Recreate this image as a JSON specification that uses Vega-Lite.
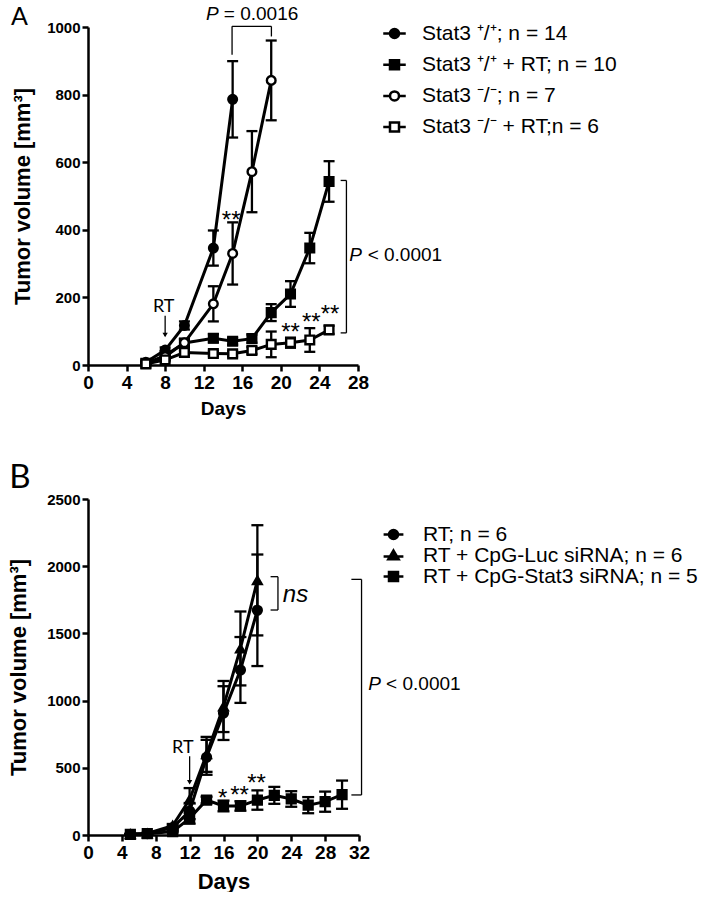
{
  "$schema": "https://vega.github.io/schema/vega-lite/v6.json",
  "background": "white",
  "padding": {"left": 7, "top": 4, "right": 0, "bottom": 0},
  "bounds": "flush",
  "spacing": 134,
  "resolve": {"scale": {"shape": "independent", "fill": "independent", "x": "independent", "y": "independent"}, "legend": {"shape": "independent", "fill": "independent"}},
  "datasets": {
    "a": [
      {"series": "Stat3 ⁺/⁺; n = 14", "day": 6, "vol": 8, "sem": 3},
      {"series": "Stat3 ⁺/⁺; n = 14", "day": 8, "vol": 44, "sem": 8},
      {"series": "Stat3 ⁺/⁺; n = 14", "day": 10, "vol": 117, "sem": 12},
      {"series": "Stat3 ⁺/⁺; n = 14", "day": 13, "vol": 346, "sem": 52},
      {"series": "Stat3 ⁺/⁺; n = 14", "day": 15, "vol": 786, "sem": 113},
      {"series": "Stat3 ⁺/⁺ + RT; n = 10", "day": 6, "vol": 5, "sem": 3},
      {"series": "Stat3 ⁺/⁺ + RT; n = 10", "day": 8, "vol": 28, "sem": 6},
      {"series": "Stat3 ⁺/⁺ + RT; n = 10", "day": 10, "vol": 65, "sem": 12},
      {"series": "Stat3 ⁺/⁺ + RT; n = 10", "day": 13, "vol": 79, "sem": 12},
      {"series": "Stat3 ⁺/⁺ + RT; n = 10", "day": 15, "vol": 70, "sem": 10},
      {"series": "Stat3 ⁺/⁺ + RT; n = 10", "day": 17, "vol": 78, "sem": 12},
      {"series": "Stat3 ⁺/⁺ + RT; n = 10", "day": 19, "vol": 155, "sem": 25},
      {"series": "Stat3 ⁺/⁺ + RT; n = 10", "day": 21, "vol": 210, "sem": 38},
      {"series": "Stat3 ⁺/⁺ + RT; n = 10", "day": 23, "vol": 346, "sem": 45},
      {"series": "Stat3 ⁺/⁺ + RT; n = 10", "day": 25, "vol": 543, "sem": 60},
      {"series": "Stat3 ⁻/⁻; n = 7", "day": 6, "vol": 5, "sem": 3},
      {"series": "Stat3 ⁻/⁻; n = 7", "day": 8, "vol": 25, "sem": 6},
      {"series": "Stat3 ⁻/⁻; n = 7", "day": 10, "vol": 66, "sem": 10},
      {"series": "Stat3 ⁻/⁻; n = 7", "day": 13, "vol": 181, "sem": 52},
      {"series": "Stat3 ⁻/⁻; n = 7", "day": 15, "vol": 330, "sem": 92},
      {"series": "Stat3 ⁻/⁻; n = 7", "day": 17, "vol": 572, "sem": 120},
      {"series": "Stat3 ⁻/⁻; n = 7", "day": 19, "vol": 842, "sem": 118},
      {"series": "Stat3 ⁻/⁻ + RT;n = 6", "day": 6, "vol": 3, "sem": 2},
      {"series": "Stat3 ⁻/⁻ + RT;n = 6", "day": 8, "vol": 15, "sem": 4},
      {"series": "Stat3 ⁻/⁻ + RT;n = 6", "day": 10, "vol": 37, "sem": 8},
      {"series": "Stat3 ⁻/⁻ + RT;n = 6", "day": 13, "vol": 34, "sem": 8},
      {"series": "Stat3 ⁻/⁻ + RT;n = 6", "day": 15, "vol": 33, "sem": 8},
      {"series": "Stat3 ⁻/⁻ + RT;n = 6", "day": 17, "vol": 43, "sem": 10},
      {"series": "Stat3 ⁻/⁻ + RT;n = 6", "day": 19, "vol": 61, "sem": 38},
      {"series": "Stat3 ⁻/⁻ + RT;n = 6", "day": 21, "vol": 66, "sem": 15},
      {"series": "Stat3 ⁻/⁻ + RT;n = 6", "day": 23, "vol": 74, "sem": 35},
      {"series": "Stat3 ⁻/⁻ + RT;n = 6", "day": 25, "vol": 104, "sem": 12}
    ],
    "b": [
      {"series": "RT; n = 6", "day": 5, "vol": 5, "sem": 3},
      {"series": "RT; n = 6", "day": 7, "vol": 10, "sem": 4},
      {"series": "RT; n = 6", "day": 10, "vol": 55, "sem": 12},
      {"series": "RT; n = 6", "day": 12, "vol": 178, "sem": 60},
      {"series": "RT; n = 6", "day": 14, "vol": 578, "sem": 130},
      {"series": "RT; n = 6", "day": 16, "vol": 907, "sem": 200},
      {"series": "RT; n = 6", "day": 18, "vol": 1228, "sem": 245},
      {"series": "RT; n = 6", "day": 20, "vol": 1672, "sem": 415},
      {"series": "RT + CpG-Luc siRNA; n = 6", "day": 5, "vol": 5, "sem": 3},
      {"series": "RT + CpG-Luc siRNA; n = 6", "day": 7, "vol": 12, "sem": 4},
      {"series": "RT + CpG-Luc siRNA; n = 6", "day": 10, "vol": 70, "sem": 12},
      {"series": "RT + CpG-Luc siRNA; n = 6", "day": 12, "vol": 264, "sem": 85},
      {"series": "RT + CpG-Luc siRNA; n = 6", "day": 14, "vol": 600, "sem": 130},
      {"series": "RT + CpG-Luc siRNA; n = 6", "day": 16, "vol": 956, "sem": 190},
      {"series": "RT + CpG-Luc siRNA; n = 6", "day": 18, "vol": 1388, "sem": 275},
      {"series": "RT + CpG-Luc siRNA; n = 6", "day": 20, "vol": 1895, "sem": 410},
      {"series": "RT + CpG-Stat3 siRNA; n  = 5", "day": 5, "vol": 5, "sem": 3},
      {"series": "RT + CpG-Stat3 siRNA; n  = 5", "day": 7, "vol": 10, "sem": 4},
      {"series": "RT + CpG-Stat3 siRNA; n  = 5", "day": 10, "vol": 25, "sem": 6},
      {"series": "RT + CpG-Stat3 siRNA; n  = 5", "day": 12, "vol": 124, "sem": 40},
      {"series": "RT + CpG-Stat3 siRNA; n  = 5", "day": 14, "vol": 260, "sem": 25},
      {"series": "RT + CpG-Stat3 siRNA; n  = 5", "day": 16, "vol": 216, "sem": 40},
      {"series": "RT + CpG-Stat3 siRNA; n  = 5", "day": 18, "vol": 216, "sem": 35},
      {"series": "RT + CpG-Stat3 siRNA; n  = 5", "day": 20, "vol": 260, "sem": 72},
      {"series": "RT + CpG-Stat3 siRNA; n  = 5", "day": 22, "vol": 295, "sem": 63},
      {"series": "RT + CpG-Stat3 siRNA; n  = 5", "day": 24, "vol": 268, "sem": 58},
      {"series": "RT + CpG-Stat3 siRNA; n  = 5", "day": 26, "vol": 222, "sem": 60},
      {"series": "RT + CpG-Stat3 siRNA; n  = 5", "day": 28, "vol": 248, "sem": 75},
      {"series": "RT + CpG-Stat3 siRNA; n  = 5", "day": 30, "vol": 300, "sem": 105}
    ],
    "aRules": [
      {"x": 14.94, "x2": 14.94, "y": 918, "y2": 1002},
      {"x": 14.94, "x2": 19.02, "y": 1002, "y2": 1002},
      {"x": 19.02, "x2": 19.02, "y": 972, "y2": 1002},
      {"x": 26.2, "x2": 26.8, "y": 546, "y2": 546},
      {"x": 26.8, "x2": 26.8, "y": 95, "y2": 546},
      {"x": 26.2, "x2": 26.8, "y": 95, "y2": 95},
      {"x": 8, "x2": 8, "y": 146, "y2": 86}
    ],
    "bRules": [
      {"x": 21.56, "x2": 22.43, "y": 1922, "y2": 1922},
      {"x": 22.43, "x2": 22.43, "y": 1674, "y2": 1922},
      {"x": 21.56, "x2": 22.43, "y": 1674, "y2": 1674},
      {"x": 31.1, "x2": 32.3, "y": 1902, "y2": 1902},
      {"x": 32.3, "x2": 32.3, "y": 298, "y2": 1902},
      {"x": 31.1, "x2": 32.3, "y": 298, "y2": 298},
      {"x": 12, "x2": 12, "y": 586, "y2": 395}
    ]
  },
  "vconcat": [
    {
      "width": 270,
      "height": 338,
      "layer": [
        {
          "data": {"name": "a"},
          "mark": {"type": "line", "color": "black", "strokeWidth": 3},
          "encoding": {
            "x": {"field": "day", "type": "quantitative", "title": "Days", "scale": {"domain": [0, 28], "nice": false},
              "axis": {"values": [0, 4, 8, 12, 16, 20, 24, 28], "tickCount": 20, "labelOverlap": false, "titleFontSize": 19, "titlePadding": 7}},
            "y": {"field": "vol", "type": "quantitative", "title": "Tumor volume [mm³]", "scale": {"domain": [0, 1000], "nice": false},
              "axis": {"values": [0, 200, 400, 600, 800, 1000], "tickCount": 20, "format": "d", "labelOverlap": false, "titlePadding": 12}},
            "detail": {"field": "series"}
          }
        },
        {
          "data": {"name": "a"},
          "mark": {"type": "errorbar", "color": "black", "thickness": 2.3, "rule": {"strokeWidth": 2.3, "color": "black"}, "ticks": {"size": 11, "thickness": 2.3, "color": "black", "opacity": 1}},
          "encoding": {
            "x": {"field": "day", "type": "quantitative", "title": "Days"},
            "y": {"field": "vol", "type": "quantitative", "title": "Tumor volume [mm³]"},
            "yError": {"field": "sem"}
          }
        },
        {
          "data": {"name": "a"},
          "mark": {"type": "point", "filled": true, "stroke": "black", "strokeWidth": 2.4, "size": 75, "opacity": 1},
          "encoding": {
            "x": {"field": "day", "type": "quantitative", "title": "Days"},
            "y": {"field": "vol", "type": "quantitative", "title": "Tumor volume [mm³]"},
            "shape": {"field": "series", "type": "nominal", "legend": null,
              "scale": {"domain": ["Stat3 ⁺/⁺ + RT; n = 10", "Stat3 ⁻/⁻ + RT;n = 6", "Stat3 ⁺/⁺; n = 14", "Stat3 ⁻/⁻; n = 7"], "range": ["square", "square", "circle", "circle"]}},
            "fill": {"field": "series", "type": "nominal",
              "scale": {"domain": ["Stat3 ⁺/⁺; n = 14", "Stat3 ⁺/⁺ + RT; n = 10", "Stat3 ⁻/⁻; n = 7", "Stat3 ⁻/⁻ + RT;n = 6"], "range": ["black", "black", "white", "white"]},
              "legend": {"orient": "none", "legendX": 296, "legendY": -4, "title": null, "labelFont": "Liberation Sans", "labelFontSize": 21, "labelColor": "black", "symbolSize": 81, "symbolStrokeWidth": 2.5, "symbolStrokeColor": "black", "symbolOpacity": 1, "rowPadding": 9.2, "labelOffset": 17, "labelLimit": 0, "padding": 0,
                "encode": {"symbols": {"update": {"shape": {"signal": "(datum.value === 'Stat3 ⁺/⁺ + RT; n = 10' || datum.value === 'Stat3 ⁻/⁻ + RT;n = 6') ? 'M-2.5,0L-1,0M1,0L2.5,0M-1,-1L1,-1L1,1L-1,1Z' : 'M-2.5,0L-1,0M1,0L2.5,0M1,0A1,1,0,1,1,-1,0A1,1,0,1,1,1,0Z'"}, "stroke": {"value": "black"}, "strokeWidth": {"value": 2.5}}}}}}
          }
        },
        {
          "data": {"name": "aRules"},
          "mark": {"type": "rule", "color": "black", "strokeWidth": 1.3},
          "encoding": {
            "x": {"field": "x", "type": "quantitative"}, "x2": {"field": "x2"},
            "y": {"field": "y", "type": "quantitative"}, "y2": {"field": "y2"}
          }
        },
        {
          "data": {"values": [{"x": 8, "y": 89}]},
          "mark": {"type": "point", "shape": "triangle-down", "filled": true, "color": "black", "size": 28, "opacity": 1},
          "encoding": {"x": {"field": "x", "type": "quantitative"}, "y": {"field": "y", "type": "quantitative"}}
        },
        {
          "data": {"values": [{"x": 13.56, "y": 1037, "t": "P"}, {"x": 28.4, "y": 325, "t": "P"}]},
          "mark": {"type": "text", "font": "Liberation Sans", "fontSize": 19, "fontStyle": "italic", "align": "right", "baseline": "middle", "color": "black"},
          "encoding": {"x": {"field": "x", "type": "quantitative"}, "y": {"field": "y", "type": "quantitative"}, "text": {"field": "t"}}
        },
        {
          "data": {"values": [{"x": 14.08, "y": 1037, "t": "= 0.0016"}, {"x": 29.0, "y": 325, "t": "< 0.0001"}]},
          "mark": {"type": "text", "font": "Liberation Sans", "fontSize": 19, "align": "left", "baseline": "middle", "color": "black"},
          "encoding": {"x": {"field": "x", "type": "quantitative"}, "y": {"field": "y", "type": "quantitative"}, "text": {"field": "t"}}
        },
        {
          "data": {"values": [{"x": 14.85, "y": 426, "t": "**"}, {"x": 21.0, "y": 95, "t": "**"}, {"x": 23.15, "y": 124, "t": "**"}, {"x": 25.1, "y": 149, "t": "**"}]},
          "mark": {"type": "text", "font": "Liberation Sans", "fontSize": 24, "align": "center", "baseline": "middle", "color": "black"},
          "encoding": {"x": {"field": "x", "type": "quantitative"}, "y": {"field": "y", "type": "quantitative"}, "text": {"field": "t"}}
        },
        {
          "data": {"values": [{"x": 7.85, "y": 172, "t": "RT"}]},
          "mark": {"type": "text", "font": "Lato", "fontSize": 18, "align": "center", "baseline": "middle", "color": "black"},
          "encoding": {"x": {"field": "x", "type": "quantitative"}, "y": {"field": "y", "type": "quantitative"}, "text": {"field": "t"}}
        },
        {
          "data": {"values": [{"x": -7.1, "y": 1030, "t": "A"}]},
          "mark": {"type": "text", "font": "Lato", "fontSize": 25, "align": "center", "baseline": "middle", "color": "black"},
          "encoding": {"x": {"field": "x", "type": "quantitative"}, "y": {"field": "y", "type": "quantitative"}, "text": {"field": "t"}}
        }
      ]
    },
    {
      "width": 271,
      "height": 336,
      "layer": [
        {
          "data": {"name": "b"},
          "mark": {"type": "line", "color": "black", "strokeWidth": 3},
          "encoding": {
            "x": {"field": "day", "type": "quantitative", "title": "Days", "scale": {"domain": [0, 32], "nice": false},
              "axis": {"values": [0, 4, 8, 12, 16, 20, 24, 28, 32], "tickCount": 20, "labelOverlap": false, "titleFontSize": 22, "titlePadding": 9}},
            "y": {"field": "vol", "type": "quantitative", "title": "Tumor volume [mm³]", "scale": {"domain": [0, 2500], "nice": false},
              "axis": {"values": [0, 500, 1000, 1500, 2000, 2500], "tickCount": 20, "format": "d", "labelOverlap": false, "titlePadding": 16}},
            "detail": {"field": "series"}
          }
        },
        {
          "data": {"name": "b"},
          "mark": {"type": "errorbar", "color": "black", "thickness": 2.3, "rule": {"strokeWidth": 2.3, "color": "black"}, "ticks": {"size": 12, "thickness": 2.3, "color": "black", "opacity": 1}},
          "encoding": {
            "x": {"field": "day", "type": "quantitative", "title": "Days"},
            "y": {"field": "vol", "type": "quantitative", "title": "Tumor volume [mm³]"},
            "yError": {"field": "sem"}
          }
        },
        {
          "data": {"name": "b"},
          "mark": {"type": "point", "filled": true, "stroke": "black", "strokeWidth": 2, "size": 85, "opacity": 1},
          "encoding": {
            "x": {"field": "day", "type": "quantitative", "title": "Days"},
            "y": {"field": "vol", "type": "quantitative", "title": "Tumor volume [mm³]"},
            "shape": {"field": "series", "type": "nominal", "legend": null,
              "scale": {"domain": ["RT + CpG-Stat3 siRNA; n  = 5", "RT; n = 6", "RT + CpG-Luc siRNA; n = 6"], "range": ["square", "circle", "triangle-up"]}},
            "fill": {"field": "series", "type": "nominal",
              "scale": {"domain": ["RT; n = 6", "RT + CpG-Luc siRNA; n = 6", "RT + CpG-Stat3 siRNA; n  = 5"], "range": ["black", "black", "black"]},
              "legend": {"orient": "none", "legendX": 295, "legendY": 25, "title": null, "labelFont": "Liberation Sans", "labelFontSize": 21, "labelColor": "black", "symbolSize": 81, "symbolStrokeWidth": 2.5, "symbolStrokeColor": "black", "symbolOpacity": 1, "rowPadding": -7, "labelOffset": 19, "labelLimit": 0, "padding": 0,
                "encode": {"symbols": {"update": {"shape": {"signal": "datum.value === 'RT + CpG-Luc siRNA; n = 6' ? 'M-2.2,0.2L2.2,0.2M0,-1.1L1.15,0.85L-1.15,0.85Z' : (datum.value === 'RT; n = 6' ? 'M-2.2,0L2.2,0M1,0A1,1,0,1,1,-1,0A1,1,0,1,1,1,0Z' : 'M-2.2,0L2.2,0M-1,-1L1,-1L1,1L-1,1Z')"}, "stroke": {"value": "black"}, "strokeWidth": {"value": 2.5}}}}}}
          }
        },
        {
          "data": {"name": "bRules"},
          "mark": {"type": "rule", "color": "black", "strokeWidth": 1.3},
          "encoding": {
            "x": {"field": "x", "type": "quantitative"}, "x2": {"field": "x2"},
            "y": {"field": "y", "type": "quantitative"}, "y2": {"field": "y2"}
          }
        },
        {
          "data": {"values": [{"x": 12, "y": 393}]},
          "mark": {"type": "point", "shape": "triangle-down", "filled": true, "color": "black", "size": 28, "opacity": 1},
          "encoding": {"x": {"field": "x", "type": "quantitative"}, "y": {"field": "y", "type": "quantitative"}}
        },
        {
          "data": {"values": [{"x": 34.6, "y": 1121, "t": "P"}]},
          "mark": {"type": "text", "font": "Liberation Sans", "fontSize": 19, "fontStyle": "italic", "align": "right", "baseline": "middle", "color": "black"},
          "encoding": {"x": {"field": "x", "type": "quantitative"}, "y": {"field": "y", "type": "quantitative"}, "text": {"field": "t"}}
        },
        {
          "data": {"values": [{"x": 35.2, "y": 1121, "t": "< 0.0001"}]},
          "mark": {"type": "text", "font": "Liberation Sans", "fontSize": 19, "align": "left", "baseline": "middle", "color": "black"},
          "encoding": {"x": {"field": "x", "type": "quantitative"}, "y": {"field": "y", "type": "quantitative"}, "text": {"field": "t"}}
        },
        {
          "data": {"values": [{"x": 23.0, "y": 1786, "t": "ns"}]},
          "mark": {"type": "text", "font": "Liberation Sans", "fontSize": 24, "fontStyle": "italic", "align": "left", "baseline": "middle", "color": "black"},
          "encoding": {"x": {"field": "x", "type": "quantitative"}, "y": {"field": "y", "type": "quantitative"}, "text": {"field": "t"}}
        },
        {
          "data": {"values": [{"x": 15.9, "y": 270, "t": "*"}, {"x": 17.9, "y": 293, "t": "**"}, {"x": 19.9, "y": 382, "t": "**"}]},
          "mark": {"type": "text", "font": "Liberation Sans", "fontSize": 24, "align": "center", "baseline": "middle", "color": "black"},
          "encoding": {"x": {"field": "x", "type": "quantitative"}, "y": {"field": "y", "type": "quantitative"}, "text": {"field": "t"}}
        },
        {
          "data": {"values": [{"x": 11.2, "y": 645, "t": "RT"}]},
          "mark": {"type": "text", "font": "Lato", "fontSize": 18, "align": "center", "baseline": "middle", "color": "black"},
          "encoding": {"x": {"field": "x", "type": "quantitative"}, "y": {"field": "y", "type": "quantitative"}, "text": {"field": "t"}}
        },
        {
          "data": {"values": [{"x": -8.05, "y": 2654, "t": "B"}]},
          "mark": {"type": "text", "font": "Lato", "fontSize": 33, "align": "center", "baseline": "middle", "color": "black"},
          "encoding": {"x": {"field": "x", "type": "quantitative"}, "y": {"field": "y", "type": "quantitative"}, "text": {"field": "t"}}
        }
      ]
    }
  ],
  "config": {
    "view": {"stroke": null},
    "axis": {"domainColor": "black", "domainWidth": 2.5, "tickColor": "black", "tickWidth": 2.5, "tickSize": 6, "labelColor": "black", "labelFont": "Liberation Sans", "labelFontWeight": "bold", "titleFont": "Liberation Sans", "titleFontWeight": "bold", "titleColor": "black", "grid": false, "labelPadding": 2, "labelOverlap": false, "labelFlush": false},
    "axisX": {"labelFontSize": 19},
    "axisY": {"labelFontSize": 15, "titleFontSize": 22}
  }
}
